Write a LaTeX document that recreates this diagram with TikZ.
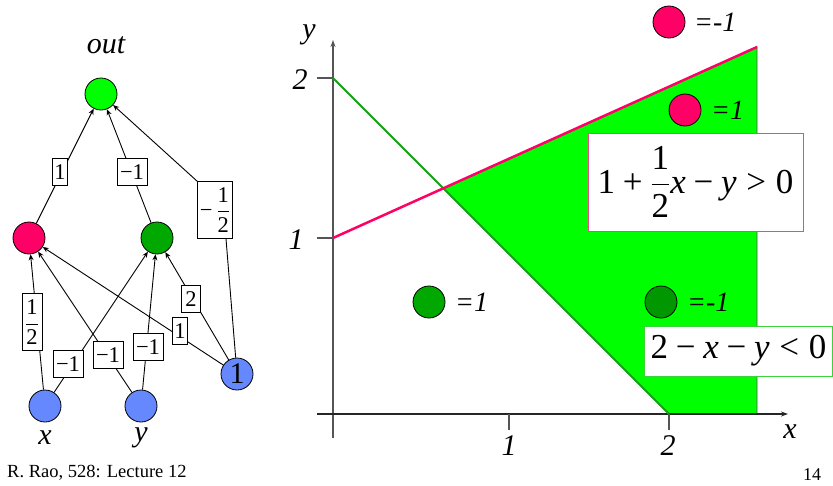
\documentclass[tikz,border=0pt]{standalone}
\usepackage{fix-cm}
\usepackage{fontspec}
\setmainfont{Liberation Serif}
\usetikzlibrary{arrows.meta}
\definecolor{outg}{RGB}{0,255,0}
\definecolor{pinkn}{RGB}{255,0,102}
\definecolor{dgreen}{RGB}{0,168,0}
\definecolor{bluen}{RGB}{102,136,255}
\definecolor{lineg}{RGB}{20,160,20}
\definecolor{axisg}{RGB}{85,85,85}
\definecolor{pinkbox}{RGB}{240,70,140}
\definecolor{greenbox}{RGB}{60,210,60}
\newcommand{\tx}[1]{\mbox{#1}}
\newcommand{\ti}[1]{\mbox{\itshape #1}}
\begin{document}
\begin{tikzpicture}[x=1pt,y=-1pt,
  neuron/.style={circle,draw=black,line width=0.8pt,minimum size=32pt,inner sep=0pt},
  wlabel/.style={draw=black,fill=white,line width=0.6pt,inner xsep=2pt,inner ysep=1pt,minimum height=27pt,font=\fontsize{22.5}{24}\selectfont},
  edge/.style={line width=0.9pt,-{Stealth[length=6pt,width=5pt]}},
  plain/.style={line width=0.9pt},
  big/.style={font=\fontsize{30}{32}\selectfont\itshape,inner sep=0pt},
  eqlab/.style={font=\fontsize{28}{30}\selectfont\itshape,inner sep=0pt,anchor=west},
  axis/.style={line width=1.3pt,draw=axisg},
  tip/.style={-{Stealth[length=7pt,width=5pt]}}
]
\useasboundingbox (0,0) rectangle (833,485);
% ---------- network ----------
\node[big] (outlab) at (106,45) {out};
\node[neuron,fill=outg] (out) at (101,94) {};
\node[neuron,fill=pinkn] (h1) at (29,238) {};
\node[neuron,fill=dgreen] (h2) at (157,238) {};
\node[neuron,fill=bluen] (nx) at (45,406) {};
\node[neuron,fill=bluen] (ny) at (141,406) {};
\node[neuron,fill=bluen,font=\fontsize{30}{31}\selectfont] (nb) at (237,374) {1};
\node[big] (xlab) at (45,438) {x};
\node[big] (ylab) at (141,438) {y};

\draw[edge] (h1) -- (out);
\draw[edge] (h2) -- (out);
\draw[edge] (nx) -- (h1);
\draw[edge] (ny) -- (h1);
\draw[edge] (nb) -- (h1);
\draw[edge] (nx) -- (h2);
\draw[edge] (ny) -- (h2);
\draw[edge] (nb) -- (h2);

\node[wlabel] (w1) at (60,172) {1};
\node[wlabel,inner xsep=3pt] (w2) at (132,172) {−1};
\node[wlabel,inner xsep=2.5pt,minimum height=57pt] (w3) at (215,210) {$\tx{−}\,\displaystyle\frac{\tx{1}}{\tx{2}}$};
\node[wlabel,inner xsep=3pt,minimum height=57pt] (w4) at (32,322) {$\displaystyle\frac{\tx{1}}{\tx{2}}$};
\node[wlabel,inner xsep=3pt] (w5) at (108,355) {−1};
\node[wlabel] (w6) at (180,331) {1};
\node[wlabel,inner xsep=3pt] (w7) at (68,364) {−1};
\node[wlabel,inner xsep=3pt] (w8) at (148,347) {−1};
\node[wlabel,inner xsep=4pt] (w9) at (191,299) {2};
\draw[plain] (nb) -- ([xshift=11pt]w3.south);
\draw[edge] (w3.north west) -- (out);

% ---------- plot ----------
\coordinate (O) at (333,414);
\coordinate (A) at (443.3,188.3);
\coordinate (P2) at (757,47);
\coordinate (Q) at (757,414);
\coordinate (G2) at (669,414);
\coordinate (G1) at (333,78);
\coordinate (P1) at (333,238);
\fill[outg] (A) -- (P2) -- (Q) -- (G2) -- cycle;
\draw[axisg,line width=0.8pt] (A) -- (P2) -- (Q);
\draw[axis,tip] (333,438) -- (333,40);
\draw[line width=1.3pt,black!85,tip] (317,414) -- (788,414);
\draw[axis] (317,78) -- (333,78);
\draw[axis] (317,238) -- (333,238);
\draw[axis] (509,414) -- (509,430);
\draw[axis] (669,414) -- (669,430);
\draw[lineg,line width=2pt] (G1) -- (G2);
\draw[pinkn,line width=2.5pt] (P1) -- (P2);

\node[big] (yax) at (309,35) {y};
\node[big] (y2) at (300,80) {2};
\node[big] (y1) at (296,240) {1};
\node[big] (x1) at (509,446) {1};
\node[big] (x2) at (668,446) {2};
\node[big] (xax) at (790,432) {x};

\node[neuron,fill=pinkn] (c1) at (669,22) {};
\node[eqlab] (t1) at (694,22) {=-1};
\node[neuron,fill=pinkn] (c2) at (685,110) {};
\node[eqlab] (t2) at (711,110) {=1};
\node[neuron,fill=dgreen] (c3) at (429,302) {};
\node[eqlab] (t3) at (455,302) {=1};
\node[neuron,fill=dgreen!90!black] (c4) at (661,302) {};
\node[eqlab] (t4) at (687,302) {=-1};

\node[draw=pinkbox,fill=white,line width=1pt,minimum width=215pt,minimum height=98pt,inner sep=0pt,font=\fontsize{35}{37}\selectfont] (f1) at (695.5,182)
  {$\tx{1}\mathbin{\tx{+}}\displaystyle\frac{\tx{1}}{\tx{2}}\ti{x}\mathbin{\tx{−}}\ti{y}\mathrel{\tx{>}}\tx{0}$};
\node[draw=greenbox,fill=white,line width=1pt,minimum width=188pt,minimum height=50pt,inner sep=0pt,font=\fontsize{35}{37}\selectfont] (f2) at (738.5,351)
  {$\tx{2}\mathbin{\tx{−}}\ti{x}\mathbin{\tx{−}}\ti{y}\mathrel{\tx{<}}\tx{0}$};

\node[font=\fontsize{18.5}{20}\selectfont,anchor=west,inner sep=0pt] (foot) at (7,473) {R. Rao, 528: Lecture 12};
\node[font=\fontsize{18}{20}\selectfont,inner sep=0pt] (pg) at (812,475) {14};
\end{tikzpicture}
\end{document}
